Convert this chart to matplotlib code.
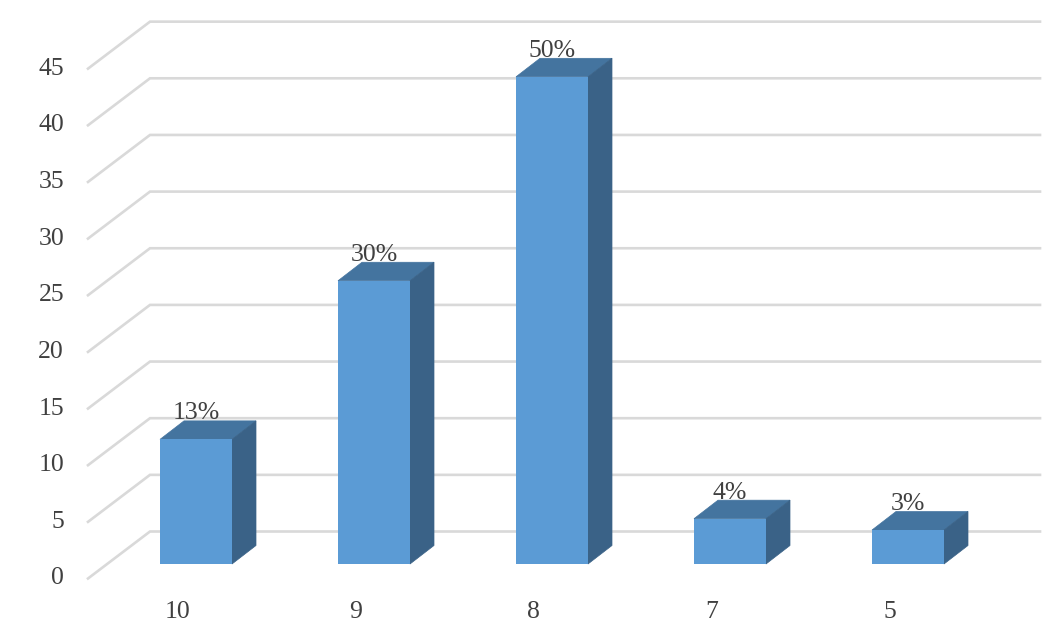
import matplotlib
matplotlib.use('Agg')
from matplotlib import pyplot as plt
from matplotlib.patches import Polygon
import numpy as np

categories = ['10', '9', '8', '7', '5']
values = [11, 25, 43, 4, 3]
percent_labels = ['13%', '30%', '50%', '4%', '3%']
y_ticks = [0, 5, 10, 15, 20, 25, 30, 35, 40, 45]

W, H = 1062, 641
PX_X = 178.0    # pixels per category
PX_Y = 11.33    # pixels per value unit
DEPTH_X = 24 / PX_X
DEPTH_Y = 18.5 / PX_Y
BAR_W = 72 / PX_X

# walls of the fake 3d box, relative to the front of the bars
FRONT_X, FRONT_Y = -108 / PX_X, -14.5 / PX_Y
BACK_X, BACK_Y = -46 / PX_X, 32.5 / PX_Y
RIGHT_X = 844 / PX_X

FRONT = '#5b9bd5'
TOP = '#44749f'
SIDE = '#3a6287'
GRID = '#d9d9d9'
TEXT = '#404040'
FONT = 18.5

plt.rcParams['font.family'] = ['Liberation Serif', 'DejaVu Serif']

fig = plt.figure(figsize=(W / 100, H / 100), dpi=100)
ax = fig.add_axes([0, 0, 1, 1])
ax.set_xlim(-196 / PX_X, (W - 196) / PX_X)
ax.set_ylim(-(H - 564) / PX_Y, 564 / PX_Y)
ax.axis('off')

for t in y_ticks:
    ax.plot([FRONT_X, BACK_X, RIGHT_X], [t + FRONT_Y, t + BACK_Y, t + BACK_Y],
            color=GRID, lw=1.9, zorder=1, solid_joinstyle='miter')
    ax.text(-132 / PX_X, t + FRONT_Y, str(t), ha='right', va='center',
            fontsize=FONT, color=TEXT, zorder=5)

for i, (cat, v, lab) in enumerate(zip(categories, values, percent_labels)):
    x0 = i - BAR_W / 2
    x1 = i + BAR_W / 2
    ax.add_patch(Polygon([(x0, v), (x1, v), (x1 + DEPTH_X, v + DEPTH_Y), (x0 + DEPTH_X, v + DEPTH_Y)],
                         closed=True, facecolor=TOP, edgecolor=TOP, lw=0.5, zorder=2))
    ax.add_patch(Polygon([(x1, 0), (x1 + DEPTH_X, DEPTH_Y), (x1 + DEPTH_X, v + DEPTH_Y), (x1, v)],
                         closed=True, facecolor=SIDE, edgecolor=SIDE, lw=0.5, zorder=2))
    ax.bar(i, v, width=BAR_W, color=FRONT, zorder=3)
    ax.text(i, v + 26 / PX_Y, lab, ha='center', va='center', fontsize=FONT, color=TEXT, zorder=5)
    ax.text(i - 18.5 / PX_X, -48 / PX_Y, cat, ha='center', va='center', fontsize=FONT, color=TEXT, zorder=5)

fig.savefig('out.png', dpi=100, facecolor='white')
